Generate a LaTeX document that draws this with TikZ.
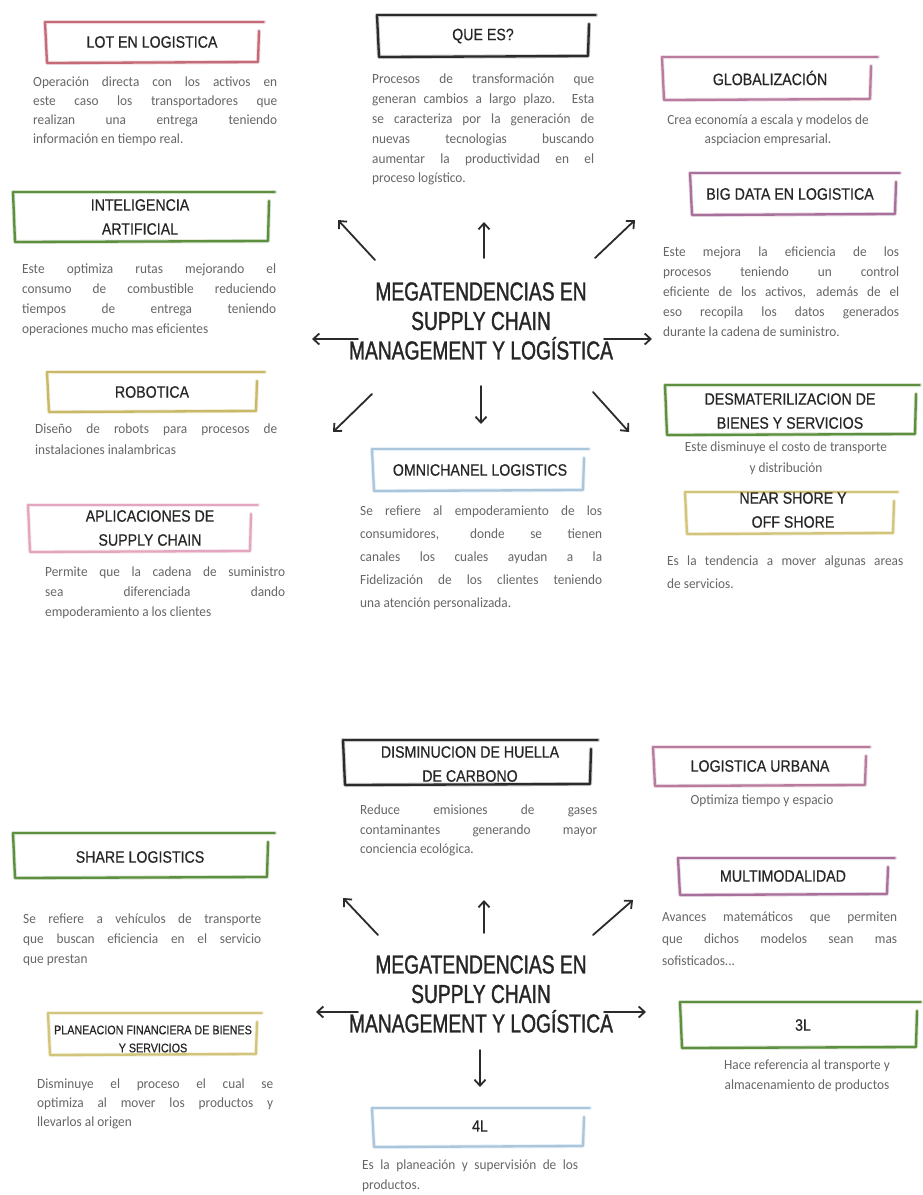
\documentclass[tikz,border=0pt]{standalone}
\usepackage{fontspec}
\setmainfont{Carlito}
\newfontfamily\hfont[FakeStretch=0.86,FakeBold=0.5]{Liberation Sans}
\newfontfamily\tfont[FakeStretch=0.74,FakeBold=1.2]{Liberation Sans}
\newfontfamily\bfont[FakeStretch=0.95]{Carlito}
\usetikzlibrary{arrows.meta,calc}
\definecolor{txt}{HTML}{666666}
\definecolor{hdcol}{HTML}{262626}
\definecolor{redpink}{HTML}{C46A78}
\definecolor{grn}{HTML}{5C8F3E}
\definecolor{khaki}{HTML}{C9B967}
\definecolor{pinkl}{HTML}{E3A6BE}
\definecolor{blk}{HTML}{2B2B2B}
\definecolor{lblue}{HTML}{A9C6DC}
\definecolor{mauve}{HTML}{B97C9F}
\definecolor{purp}{HTML}{A8709A}
\definecolor{yel}{HTML}{D2C47A}
\newcommand{\sketchframe}[6]{%
  \draw[line width=4pt,opacity=0.25,line cap=round,line join=round,draw=#1] (#2,#3) -- (#4,#3) (#2,#3) -- ({#2+2},#5) -- (#6,{#5-1}) -- ({#6+1},{#3+9});
  \draw[line width=1.3pt,line cap=round,draw=#1] (#2,#3) -- (#4,#3);
  \draw[line width=2.3pt,line cap=round,line join=round,draw=#1] (#2,#3) -- ({#2+2},#5) -- (#6,{#5-1}) -- ({#6+1},{#3+9});
}
\tikzset{
  hd/.style={font=\hfont\fontsize{16.5}{24}\selectfont, text=hdcol, align=center, inner sep=0pt},
  hdsmall/.style={font=\hfont\fontsize{12.5}{18}\selectfont, text=hdcol, align=center, inner sep=0pt},
  ds/.style={font=\bfont\fontsize{14}{#1}\selectfont, text=txt, align=justify, inner sep=0pt, anchor=north west},
  ds/.default=19.5,
  dc/.style={font=\bfont\fontsize{14}{#1}\selectfont, text=txt, align=center, inner sep=0pt, anchor=north},
  dc/.default=19.5,
  ttl/.style={font=\tfont\fontsize{26}{29.5}\selectfont, text=hdcol, align=center, inner sep=0pt},
  arr/.style={-{Straight Barb[length=6pt,width=11pt]}, line width=1.8pt, line cap=round, draw=blk}
}
\begin{document}
\begin{tikzpicture}[x=1pt,y=-1pt]
\fill[white] (0,0) rectangle (922,1195);
\useasboundingbox (0,0) rectangle (922,1195);

%================ TOP HALF ================
% LOT EN LOGISTICA
\sketchframe{redpink}{45}{22}{264}{63}{258}
\node[hd] (lot) at (152,42) {LOT EN LOGISTICA};
\node[ds=19,text width=244pt] (lotd) at (33,77) {Operación directa con los activos en\linebreak este caso los transportadores que\linebreak realizan una entrega teniendo\linebreak información en tiempo real.};
% INTELIGENCIA ARTIFICIAL
\sketchframe{grn}{13}{192}{275}{242}{268}
\node[hd] (ia) at (140,217) {INTELIGENCIA\\ARTIFICIAL};
\node[ds=20,text width=254pt] (iad) at (22,264) {Este optimiza rutas mejorando el\linebreak consumo de combustible reduciendo\linebreak tiempos de entrega teniendo\linebreak operaciones mucho mas eficientes};
% ROBOTICA
\sketchframe{khaki}{47}{372}{265}{412}{256}
\node[hd] (rob) at (152,392) {ROBOTICA};
\node[ds=21,text width=242pt] (robd) at (35,424) {Diseño de robots para procesos de\linebreak instalaciones inalambricas};
% APLICACIONES
\sketchframe{pinkl}{28}{505}{258}{552}{250}
\node[hd] (apl) at (150,528) {APLICACIONES DE\\SUPPLY CHAIN};
\node[ds=20,text width=240pt] (apld) at (45,567) {Permite que la cadena de suministro\linebreak sea diferenciada dando\linebreak empoderamiento a los clientes};

% QUE ES?
\sketchframe{blk}{377}{15}{596}{57}{588}
\node[hd] (que) at (483,36) {QUE ES?};
\node[ds=19.8,text width=222pt] (qued) at (372,74) {Procesos de transformación que\linebreak generan cambios a largo plazo. Esta\linebreak se caracteriza por la generación de\linebreak nuevas tecnologias buscando\linebreak aumentar la productividad en el\linebreak proceso logístico.};

% central title (top)
\node[ttl] (t1) at (481,321) {MEGATENDENCIAS EN\\SUPPLY CHAIN\\MANAGEMENT Y LOGÍSTICA};
\coordinate (a1s) at (375,260); \coordinate (a1e) at (338,220);
\coordinate (a2s) at (484,258); \coordinate (a2e) at (484,222);
\coordinate (a3s) at (595,258); \coordinate (a3e) at (635,220);
\coordinate (a4s) at (358,339); \coordinate (a4e) at (312,339);
\coordinate (a5s) at (604,339); \coordinate (a5e) at (652,339);
\coordinate (a6s) at (372,394); \coordinate (a6e) at (333,432);
\coordinate (a7s) at (481,386); \coordinate (a7e) at (481,424);
\coordinate (a8s) at (593,392); \coordinate (a8e) at (629,432);
\foreach \i in {1,...,8} {\draw[arr] (a\i s) -- (a\i e);}

% OMNICHANEL
\sketchframe{lblue}{372}{449}{589}{491}{583}
\node[hd] (omn) at (480,470) {OMNICHANEL LOGISTICS};
\node[ds=23,text width=242pt] (omnd) at (360,506) {Se refiere al empoderamiento de los\linebreak consumidores, donde se tienen\linebreak canales los cuales ayudan a la\linebreak Fidelización de los clientes teniendo\linebreak una atención personalizada.};

% GLOBALIZACION
\sketchframe{mauve}{662}{57}{878}{100}{870}
\node[hd] (glo) at (770,78) {GLOBALIZACIÓN};
\node[dc=19] (glod) at (768,115) {Crea economía a escala y modelos de\\aspciacion empresarial.};
% BIG DATA
\sketchframe{purp}{690}{173}{900}{215}{895}
\node[hd] (big) at (790,194) {BIG DATA EN LOGISTICA};
\node[ds=20,text width=236pt] (bigd) at (663,247) {Este mejora la eficiencia de los\linebreak procesos teniendo un control\linebreak eficiente de los activos, además de el\linebreak eso recopila los datos generados\linebreak durante la cadena de suministro.};
% DESMATERILIZACION
\sketchframe{grn}{665}{385}{920}{435}{915}
\node[hd] (des) at (790,411) {DESMATERILIZACION DE\\BIENES Y SERVICIOS};
\node[dc=21] (desd) at (786,442) {Este disminuye el costo de transporte\\y distribución};
% NEAR SHORE
\sketchframe{yel}{685}{492}{898}{534}{893}
\node[hd] (nea) at (793,510) {NEAR SHORE Y\\OFF SHORE};
\node[ds=23,text width=236pt] (nead) at (667,556) {Es la tendencia a mover algunas areas\linebreak de servicios.};

%================ BOTTOM HALF ================
% DISMINUCION
\sketchframe{blk}{343}{740}{598}{785}{590}
\node[hd] (dis) at (470,764) {DISMINUCION DE HUELLA\\DE CARBONO};
\node[ds=19.5,text width=237pt] (disd) at (360,805) {Reduce emisiones de gases\linebreak contaminantes generando mayor\linebreak conciencia ecológica.};

\node[ttl] (t2) at (481,994) {MEGATENDENCIAS EN\\SUPPLY CHAIN\\MANAGEMENT Y LOGÍSTICA};
\coordinate (b1s) at (378,935); \coordinate (b1e) at (343,898);
\coordinate (b2s) at (484,933); \coordinate (b2e) at (484,900);
\coordinate (b3s) at (593,935); \coordinate (b3e) at (633,900);
\coordinate (b4s) at (358,1012); \coordinate (b4e) at (316,1012);
\coordinate (b5s) at (604,1012); \coordinate (b5e) at (646,1012);
\coordinate (b6s) at (480,1050); \coordinate (b6e) at (480,1087);
\foreach \i in {1,...,6} {\draw[arr] (b\i s) -- (b\i e);}

% 4L
\sketchframe{lblue}{372}{1108}{590}{1147}{583}
\node[hd] (l4) at (480,1126) {4L};
\node[ds=20,text width=216pt] (l4d) at (362,1160) {Es la planeación y supervisión de los\linebreak productos.};

% SHARE LOGISTICS
\sketchframe{grn}{13}{833}{275}{878}{267}
\node[hd] (sha) at (140,857) {SHARE LOGISTICS};
\node[ds=20,text width=238pt] (shad) at (23,914) {Se refiere a vehículos de transporte\linebreak que buscan eficiencia en el servicio\linebreak que prestan};
% PLANEACION
\sketchframe{yel}{48}{1013}{262}{1055}{256}
\node[hdsmall] (pla) at (153,1039) {PLANEACION FINANCIERA DE BIENES\\Y SERVICIOS};
\node[ds=19,text width=236pt] (plad) at (37,1079) {Disminuye el proceso el cual se\linebreak optimiza al mover los productos y\linebreak llevarlos al origen};

% LOGISTICA URBANA
\sketchframe{mauve}{653}{747}{870}{786}{865}
\node[hd] (lur) at (760,766) {LOGISTICA URBANA};
\node[dc] (lurd) at (762,795) {Optimiza tiempo y espacio};
% MULTIMODALIDAD
\sketchframe{purp}{678}{858}{895}{895}{887}
\node[hd] (mul) at (783,876) {MULTIMODALIDAD};
\node[ds=22,text width=235pt] (muld) at (662,912) {Avances matemáticos que permiten\linebreak que dichos modelos sean mas\linebreak sofisticados...};
% 3L
\sketchframe{grn}{680}{1002}{921}{1048}{916}
\node[hd] (l3) at (803,1025) {3L};
\node[dc=20] (l3d) at (807,1060) {Hace referencia al transporte y\\almacenamiento de productos};
\end{tikzpicture}
\end{document}
